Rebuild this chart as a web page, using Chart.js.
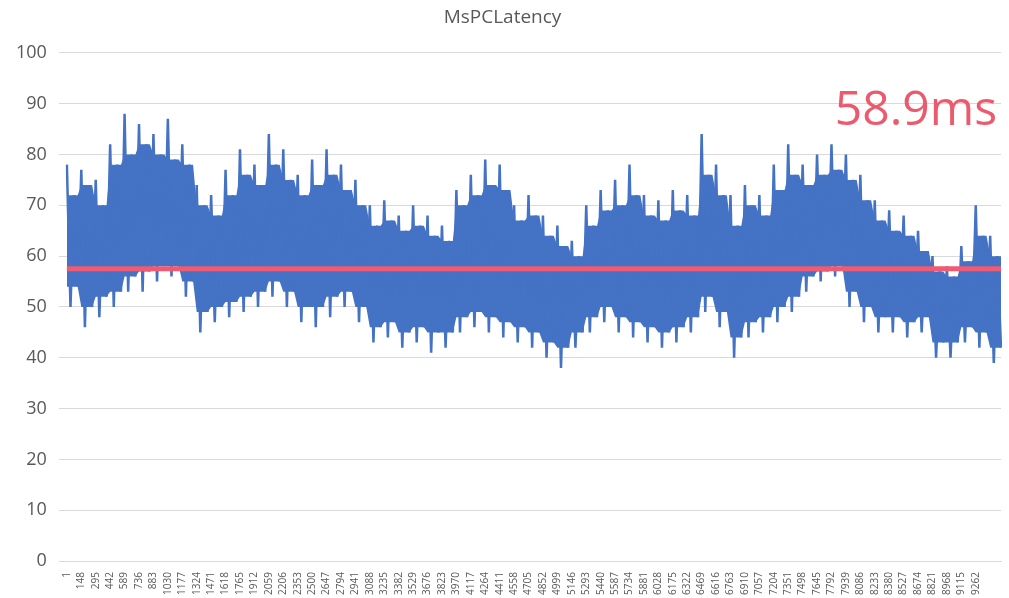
<!DOCTYPE html>
<html><head><meta charset="utf-8">
<script src="https://cdn.jsdelivr.net/npm/chart.js@4"></script>
<style>html,body{margin:0;background:#fff}#w{width:1009px;height:598px}</style>
</head><body><div id="w"><canvas id="c"></canvas></div>
<script>
const title = "MsPCLatency";
const annotationText = "58.9ms";
const averageValue = 57.5;
const yTicks = [0,10,20,30,40,50,60,70,80,90,100];
const peakHigh = [78,77,75,82,88,86,84,87,82,74,72,77,81,78,84,81,76,79,81,78,75,70,71,68,70,68,66,73,76,79,78,70,72,68,66,63,70,73,75,78,72,71,73,72,84,78,72,74,72,78,82,78,80,82,80,76,71,69,68,65,60,58,62,70,64];
const peakLow  = [50,46,48,50,53,53,55,56,52,45,47,48,49,50,52,50,47,46,48,50,47,43,44,42,43,41,42,45,46,45,44,43,42,40,38,42,45,47,45,44,43,42,43,45,49,46,40,44,45,47,49,53,55,56,50,47,45,45,44,45,40,40,43,42,39];
const midHigh  = [72,74,70,78,80,82,80,79,78,70,68,72,76,74,78,75,72,74,76,73,70,66,67,65,66,64,63,70,72,74,73,67,68,64,62,60,66,69,70,72,68,67,69,68,76,72,66,70,68,73,76,74,76,77,75,71,67,65,64,61,57,56,59,64,60];
const midLow   = [54,50,52,53,56,57,58,58,55,49,50,51,52,53,55,53,50,50,52,53,50,46,47,45,46,45,45,48,49,48,47,46,45,43,42,45,48,50,48,47,46,45,46,48,52,49,44,47,48,50,52,56,57,58,53,50,48,48,47,48,43,43,46,45,42];
const tickStep = 147;
const shownTicks = 64;

const values = [], labels = [], bandTop = [], bandBottom = [];
for (let i = 0; i < peakHigh.length; i++) {
  [peakHigh[i], peakLow[i], midHigh[i], midLow[i]].forEach((v, k) => {
    values.push(v);
    bandTop.push(midHigh[i]);
    bandBottom.push(midLow[i]);
    labels.push(String(1 + i * tickStep + Math.round(k * tickStep / 4)));
  });
}
const avg = values.map(() => averageValue);

const annot = {
  id: 'annot',
  afterDraw(chart) {
    const {ctx, chartArea, scales} = chart;
    ctx.save();
    ctx.fillStyle = '#ec5a6e';
    ctx.font = '48px "Open Sans", "DejaVu Sans", sans-serif';
    ctx.textAlign = 'right';
    ctx.textBaseline = 'middle';
    ctx.fillText(annotationText, chartArea.right - 4, scales.y.getPixelForValue(88.5));
    ctx.restore();
  }
};

new Chart(document.getElementById('c'), {
  type: 'line',
  data: { labels, datasets: [
    { data: bandBottom, borderWidth: 0, pointRadius: 0, fill: false, order: 4 },
    { data: bandTop, borderWidth: 0, pointRadius: 0, fill: '-1', backgroundColor: '#4472c4', order: 3 },
    { data: values, borderColor: '#4472c4', borderWidth: 2.5, pointRadius: 0, tension: 0, fill: false, order: 2 },
    { data: avg, borderColor: '#ef5b72', borderWidth: 5, pointRadius: 0, fill: false, order: 1 }
  ]},
  options: {
    responsive: true, maintainAspectRatio: false, animation: false,
    layout: { padding: { left: 4, right: 8, top: 4, bottom: 0 } },
    plugins: {
      legend: { display: false }, tooltip: { enabled: false },
      title: { display: true, text: title, color: '#595959', font: { size: 19, family: '"Open Sans", sans-serif', weight: 'normal' }, padding: { top: 2, bottom: 24 } }
    },
    scales: {
      y: { min: 0, max: 100, afterBuildTicks: a => { a.ticks = yTicks.map(v => ({ value: v })); },
        grid: { color: '#d9d9d9' }, border: { display: false },
        ticks: { color: '#595959', font: { size: 18, family: '"Open Sans", sans-serif' }, padding: 12 } },
      x: { grid: { display: false }, border: { color: '#d9d9d9' },
        ticks: { autoSkip: false, maxRotation: 90, minRotation: 90, color: '#595959', font: { size: 10, family: '"Open Sans", sans-serif' },
          callback: (v, i) => (i % 4 === 0 && i / 4 < shownTicks) ? labels[i] : null } }
    }
  },
  plugins: [annot]
});
</script></body></html>
